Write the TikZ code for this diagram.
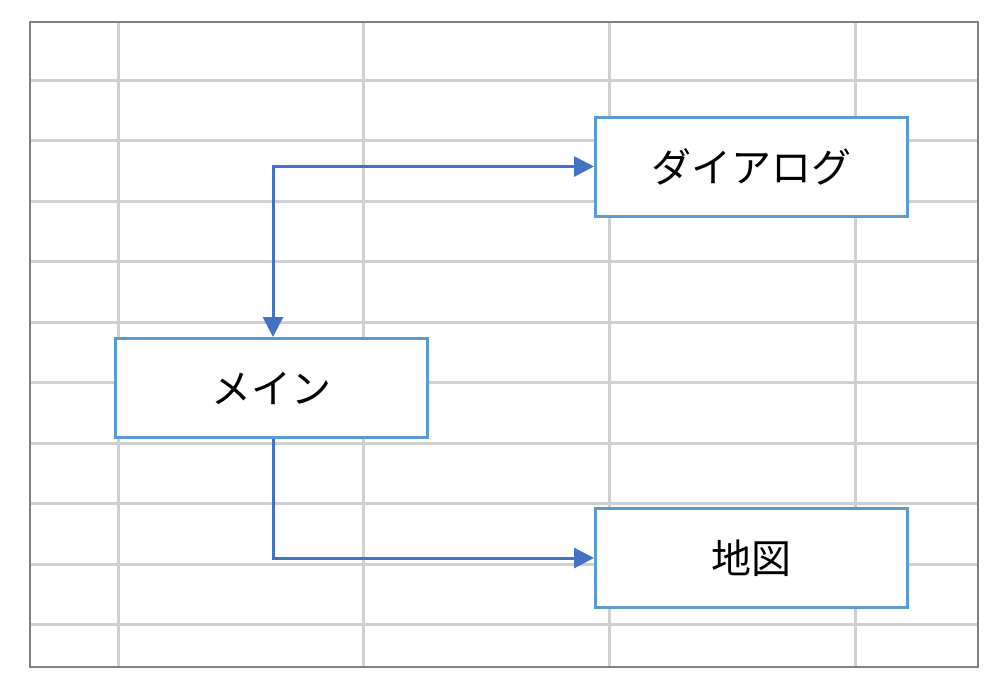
\documentclass[tikz,border=0pt]{standalone}
\usepackage{fontspec}
\newfontfamily\jpfont{Noto Sans CJK JP}
\usetikzlibrary{arrows.meta}
\definecolor{gridgray}{HTML}{D0D0D0}
\definecolor{boxblue}{HTML}{5B9BD5}
\definecolor{linkblue}{HTML}{4472C4}
\begin{document}
\begin{tikzpicture}[x=1pt, y=-1pt,
	head/.tip={Triangle[length=20pt,width=20pt]},
	box/.style={draw=boxblue, line width=3pt, fill=white, minimum width=312pt, minimum height=99pt, font=\jpfont\fontsize{40}{44}\selectfont},
	link/.style={draw=linkblue, line width=3pt}]
\useasboundingbox (0, 0) rectangle (1004, 688);
\foreach \x in {118, 363.5, 609, 855}{
	\draw[gridgray, line width=3pt] (\x, 22) -- (\x, 667);}
\foreach \y in {0,...,9}{
	\draw[gridgray, line width=3pt] (30, 80+60.5*\y) -- (978, 80+60.5*\y);}
\draw[gray, line width=2pt] (30, 22) rectangle (978, 667);

\node[box] (dialog) at (751.5, 166.5) {ダイアログ};
\node[box] (main) at (271.5, 388) {メイン};
\node[box] (map) at (751.5, 558) {地図};

\draw[link, head-head] ([xshift=1.5pt]main.north) |- (dialog.west);
\draw[link, -head] ([xshift=1.5pt]main.south) |- (map.west);
\end{tikzpicture}
\end{document}
